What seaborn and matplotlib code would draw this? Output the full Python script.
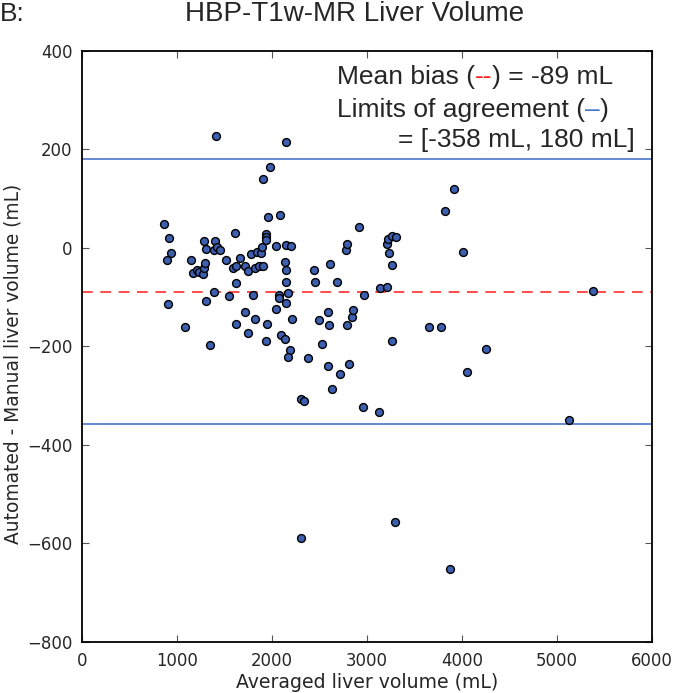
import pandas as pd
import numpy as np
import matplotlib.pyplot as plt
import seaborn as sns

# Bland-Altman data (averaged volume, automated - manual)
avg_volume = [862, 918, 932, 890, 904, 1079, 1152, 1170, 1212, 1236,
              1277, 1281, 1295, 1281, 1309, 1400, 1386, 1417, 1452, 1414,
              1305, 1343, 1389, 1518, 1546, 1592, 1613, 1626, 1626, 1626,
              1665, 1720, 1720, 1749, 1749, 1777, 1800, 1825, 1825, 1840,
              1867, 1888, 1895, 1909, 1909, 1934, 1934, 1934, 1934, 1948,
              1961, 1976, 2042, 2042, 2070, 2070, 2081, 2094, 2136, 2136,
              2150, 2150, 2150, 2150, 2164, 2150, 2202, 2212, 2190, 2170,
              2307, 2339, 2307, 2377, 2440, 2457, 2496, 2524, 2590, 2593,
              2604, 2607, 2634, 2687, 2712, 2778, 2792, 2792, 2806, 2845,
              2848, 2911, 2953, 2970, 3127, 3138, 3211, 3207, 3222, 3267,
              3309, 3236, 3264, 3260, 3298, 3651, 3784, 3825, 3920, 3877,
              4014, 4052, 4251, 5124, 5382]
difference = [48, 19, -10, -26, -114, -160, -26, -51, -45, -49,
              -53, -41, -32, 14, -2, 14, -5, 1, -5, 227,
              -109, -197, -90, -26, -99, -42, 30, -37, -72, -154,
              -20, -37, -131, -48, -173, -13, -96, -42, -144, -8,
              -37, -10, 1, -37, 139, 27, 22, 16, -189, -154,
              62, 163, 3, -125, -96, -103, 67, -178, -29, -185,
              214, 6, -45, -70, -92, -112, 3, -144, -207, -221,
              -307, -312, -590, -224, -45, -69, -147, -195, -130, -240,
              -157, -34, -286, -69, -256, -5, 8, -157, -237, -141,
              -126, 41, -323, -96, -333, -82, -80, 8, 18, 24,
              22, -11, -36, -189, -556, -160, -160, 75, 120, -652,
              -8, -253, -205, -350, -88]

mean_bias = -89
limits = [-358, 180]

x_ticks = [0, 1000, 2000, 3000, 4000, 5000, 6000]
y_ticks = [-800, -600, -400, -200, 0, 200, 400]

df = pd.DataFrame({'avg': avg_volume, 'diff': difference})

sns.set_style('ticks')
plt.rcParams['font.family'] = ['DejaVu Sans']

fig = plt.figure(figsize=(6.74, 6.93), dpi=100)
ax = fig.add_axes([82 / 674, 1 - 642 / 693, 570 / 674, 591.5 / 693])

# reference lines first so the dots sit on top
ax.axhline(mean_bias, color='#ff1a1a', lw=1.1, ls=(0, (7, 5)), zorder=1)
for lim in limits:
    ax.axhline(lim, color='#4a74c9', lw=1.2, zorder=1)

sns.scatterplot(data=df, x='avg', y='diff', color='#3d5fb0', edgecolor='black',
                s=32, linewidth=1.0, ax=ax, zorder=3, legend=False)

ax.set_xlim(0, 6000)
ax.set_ylim(-800, 400)
ax.set_xticks(x_ticks)
ax.set_yticks(y_ticks)
ax.tick_params(direction='in', top=True, right=True, length=5, width=0.8,
               labelsize=11.9, pad=7, color='#555555')
for sp in ax.spines.values():
    sp.set_linewidth(1.3)
    sp.set_color('black')

ax.set_xlabel('Averaged liver volume (mL)', fontsize=13.6, labelpad=2)
ax.set_ylabel('Automated - Manual liver volume (mL)', fontsize=13.4)
ax.yaxis.set_label_coords(-0.104, 0.47)

# annotation with coloured line samples
tkw = dict(fontsize=19, family='Liberation Sans', va='center')
t1 = ax.text(0.447, 0.955, 'Mean bias (', transform=ax.transAxes, **tkw)
t2 = ax.annotate('--', xycoords=t1, xy=(1, 0.5), color='#ff1a1a', **tkw)
ax.annotate(') = -89 mL', xycoords=t2, xy=(1, 0.5), **tkw)
t4 = ax.text(0.447, 0.899, 'Limits of agreement (', transform=ax.transAxes, **tkw)
t5 = ax.annotate('–', xycoords=t4, xy=(1, 0.5), color='#4a74c9', **tkw)
ax.annotate(')', xycoords=t5, xy=(1, 0.5), **tkw)
ax.text(0.554, 0.849, '= [-358 mL, 180 mL]', transform=ax.transAxes, **tkw)

fig.text(355 / 674, 1 - 14 / 693, 'HBP-T1w-MR Liver Volume', ha='center', va='center',
         fontsize=20, family='Liberation Sans')
fig.text(0.0, 1 - 14 / 693, 'B:', ha='left', va='center', fontsize=19,
         family='Liberation Sans')

fig.savefig('out.png', dpi=100)
